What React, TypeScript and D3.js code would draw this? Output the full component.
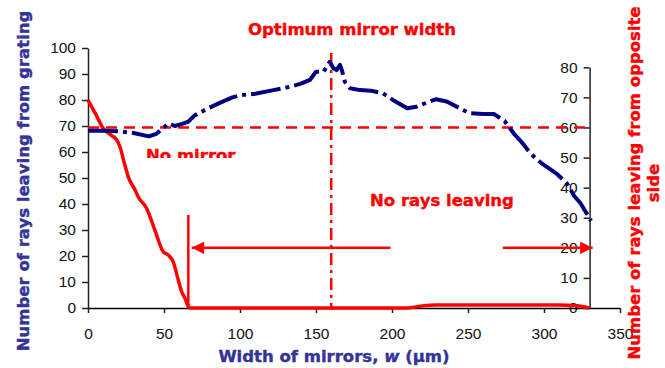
import React, { useRef, useEffect } from "react";
import * as d3 from "d3";

// width of mirrors (um) vs rays leaving from grating (left axis)
const gratingW = [0, 10, 20, 30, 40, 45, 50, 53, 57, 62, 66, 70, 78, 86, 95, 101, 110, 122, 133, 140, 146, 150, 155, 159, 161.5, 163.5, 165.8, 167, 169, 172.4, 179, 186, 194, 202, 210, 216, 223, 229, 236, 244, 251, 260, 267, 274, 280, 285, 291, 298.5, 308, 315, 320, 324, 331];
const gratingRays = [68.2, 68.2, 68, 67.3, 66, 67, 69.5, 71, 70, 70.8, 71.7, 74, 76.5, 78.7, 81, 81.9, 82.4, 83.8, 85.1, 86.3, 87.7, 90.9, 90.9, 94.7, 92.2, 91.5, 93.5, 91.5, 87, 84.5, 83.8, 83.6, 82.6, 79.5, 76.8, 77.4, 79, 80.3, 79.4, 77, 74.9, 74.6, 74.6, 72, 67.2, 64, 59.5, 55.6, 51.8, 48, 43, 40.3, 33.5];

// rays leaving from opposite side (right axis)
const oppositeW = [0, 5, 10, 15, 19, 21, 24, 26.5, 31, 33, 38.6, 44, 49.5, 52.8, 56, 59.4, 61.6, 63.8, 66.4, 67, 210, 220, 229, 310, 320, 330];
const oppositeRays = [69.1, 64.5, 59.7, 57.5, 55.8, 53.6, 48, 43.6, 39.2, 37, 33.1, 25.9, 18.7, 17.6, 15.4, 9.3, 5.4, 3.2, 0.2, 0, 0, 0.7, 1, 1, 0.8, 0];

const xTicks = [0, 50, 100, 150, 200, 250, 300, 350];
const leftTicks = [0, 10, 20, 30, 40, 50, 60, 70, 80, 90, 100];
const rightTicks = [0, 10, 20, 30, 40, 50, 60, 70, 80];

const noMirrorLevel = 60; // right axis
const optimumW = 160;
const cutoffW = 66;
const arrowLevel = 20; // right axis
const leftArrow = [199, 68.2];
const rightArrow = [273, 332];

export default function App() {
  const svgRef = useRef<SVGSVGElement>(null);

  useEffect(() => {
    if (!svgRef.current) return;
    const svg = d3.select(svgRef.current);
    svg.selectAll("*").remove();

    const width = 665;
    const height = 368;
    svg.attr("width", width).attr("height", height);

    const x = d3.scaleLinear().domain([0, 350]).range([88, 620]);
    const yL = d3.scaleLinear().domain([0, 100]).range([308, 48]);
    const yR = d3.scaleLinear().domain([0, 80]).range([308, 67.3]);

    const red = "#ff0000";
    const navy = "#000080";
    const blueTitle = "#333399";
    const boldFont = "Verdana, 'DejaVu Sans', sans-serif";
    const tickFont = "Arial, 'Liberation Sans', sans-serif";

    const defs = svg.append("defs");
    defs.append("clipPath").attr("id", "nm-clip")
      .append("rect").attr("x", 0).attr("y", 0).attr("width", width).attr("height", 158);
    defs.append("marker")
      .attr("id", "arrow")
      .attr("viewBox", "0 0 10 10")
      .attr("refX", 10).attr("refY", 5)
      .attr("markerWidth", 5.5).attr("markerHeight", 5)
      .attr("markerUnits", "strokeWidth")
      .attr("orient", "auto")
      .append("path").attr("d", "M0,0L10,5L0,10Z").attr("fill", red);

    // axes
    const xAxis = svg.append("g")
      .attr("transform", `translate(0,${yL(0)})`)
      .call(d3.axisBottom(x).tickValues(xTicks).tickSize(5).tickPadding(15).tickFormat(d3.format("d")));
    const lAxis = svg.append("g")
      .attr("transform", `translate(${x(0)},0)`)
      .call(d3.axisLeft(yL).tickValues(leftTicks).tickSize(6).tickPadding(6).tickSizeOuter(0));
    const rAxis = svg.append("g")
      .attr("transform", `translate(${x(330)},0)`)
      .call(d3.axisLeft(yR).tickValues(rightTicks).tickSize(6).tickPadding(6).tickSizeOuter(0));

    [xAxis, lAxis, rAxis].forEach((a) => {
      a.selectAll("text")
        .style("font-family", tickFont)
        .style("font-size", "15.5px")
        .style("fill", "#111");
      a.selectAll("line, path").style("stroke", "#222").style("stroke-width", 1.5);
    });
    xAxis.select(".domain").attr("d", `M${x(0)},0.5H${x(350)}`).style("stroke", "#000");

    // no mirror level
    svg.append("line")
      .attr("x1", x(0)).attr("x2", x(330))
      .attr("y1", yR(noMirrorLevel)).attr("y2", yR(noMirrorLevel))
      .attr("stroke", red).attr("stroke-width", 2.5)
      .attr("stroke-dasharray", "11,7");

    // optimum vertical
    svg.append("line")
      .attr("x1", x(optimumW)).attr("x2", x(optimumW))
      .attr("y1", 53).attr("y2", yL(0))
      .attr("stroke", red).attr("stroke-width", 2.5)
      .attr("stroke-dasharray", "12,5,3,5");

    // opposite side curve
    const redLine = d3.line<number>()
      .x((_, i) => x(oppositeW[i]))
      .y((d) => yR(d))
      .curve(d3.curveMonotoneX);
    svg.append("path")
      .datum(oppositeRays)
      .attr("fill", "none")
      .attr("stroke", red)
      .attr("stroke-width", 3.5)
      .attr("stroke-linejoin", "round")
      .attr("d", redLine);

    // grating curve
    const blueLine = d3.line<number>()
      .x((_, i) => x(gratingW[i]))
      .y((d) => yL(d));
    svg.append("path")
      .datum(gratingRays)
      .attr("fill", "none")
      .attr("stroke", navy)
      .attr("stroke-width", 4)
      .attr("stroke-linejoin", "round")
      .attr("stroke-dasharray", "30,5,4,5")
      .attr("d", blueLine);

    // cutoff marker and arrows
    svg.append("line")
      .attr("x1", x(cutoffW)).attr("x2", x(cutoffW))
      .attr("y1", 215).attr("y2", yL(0))
      .attr("stroke", red).attr("stroke-width", 2.5);
    svg.append("line")
      .attr("x1", x(leftArrow[0])).attr("x2", x(leftArrow[1]))
      .attr("y1", yR(arrowLevel)).attr("y2", yR(arrowLevel))
      .attr("stroke", red).attr("stroke-width", 2.5)
      .attr("marker-end", "url(#arrow)");
    svg.append("line")
      .attr("x1", x(rightArrow[0])).attr("x2", x(rightArrow[1]))
      .attr("y1", yR(arrowLevel)).attr("y2", yR(arrowLevel))
      .attr("stroke", red).attr("stroke-width", 2.5)
      .attr("marker-end", "url(#arrow)");

    // annotations
    const note = (tx: number, ty: number, s: string) =>
      svg.append("text")
        .attr("x", tx).attr("y", ty)
        .style("font-family", boldFont)
        .style("font-weight", "bold")
        .style("font-size", "16.5px")
        .style("fill", red)
        .style("stroke", red)
        .style("stroke-width", 0.4)
        .text(s);
    note(352, 35, "Optimum mirror width").attr("text-anchor", "middle");
    note(146, 161, "No mirror").attr("clip-path", "url(#nm-clip)");
    note(370, 206, "No rays leaving");

    // axis titles
    const xt = svg.append("text")
      .attr("x", 334).attr("y", 362)
      .attr("text-anchor", "middle")
      .style("font-family", boldFont)
      .style("font-weight", "bold")
      .style("font-size", "16.5px")
      .style("fill", blueTitle)
      .style("stroke", blueTitle)
      .style("stroke-width", 0.4);
    xt.append("tspan").text("Width of mirrors, ");
    xt.append("tspan").style("font-style", "italic").text("w");
    xt.append("tspan").text(" (\u03bcm)");

    svg.append("text")
      .attr("transform", "translate(29,181) rotate(-90)")
      .attr("text-anchor", "middle")
      .style("font-family", boldFont)
      .style("font-weight", "bold")
      .style("font-size", "16.5px")
      .style("fill", blueTitle)
      .style("stroke", blueTitle)
      .style("stroke-width", 0.4)
      .text("Number of rays leaving from grating");

    const rt = svg.append("text")
      .attr("transform", "translate(640,183) rotate(-90)")
      .attr("text-anchor", "middle")
      .style("font-family", boldFont)
      .style("font-weight", "bold")
      .style("font-size", "16.5px")
      .style("fill", red)
      .style("stroke", red)
      .style("stroke-width", 0.4);
    rt.append("tspan").attr("x", 0).attr("dy", 0).text("Number of rays leaving from opposite");
    rt.append("tspan").attr("x", 0).attr("dy", 19).text("side");
  }, []);

  return (
    <svg ref={svgRef} style={{ position: "absolute", left: 0, top: 0, display: "block", background: "#fff" }} />
  );
}
